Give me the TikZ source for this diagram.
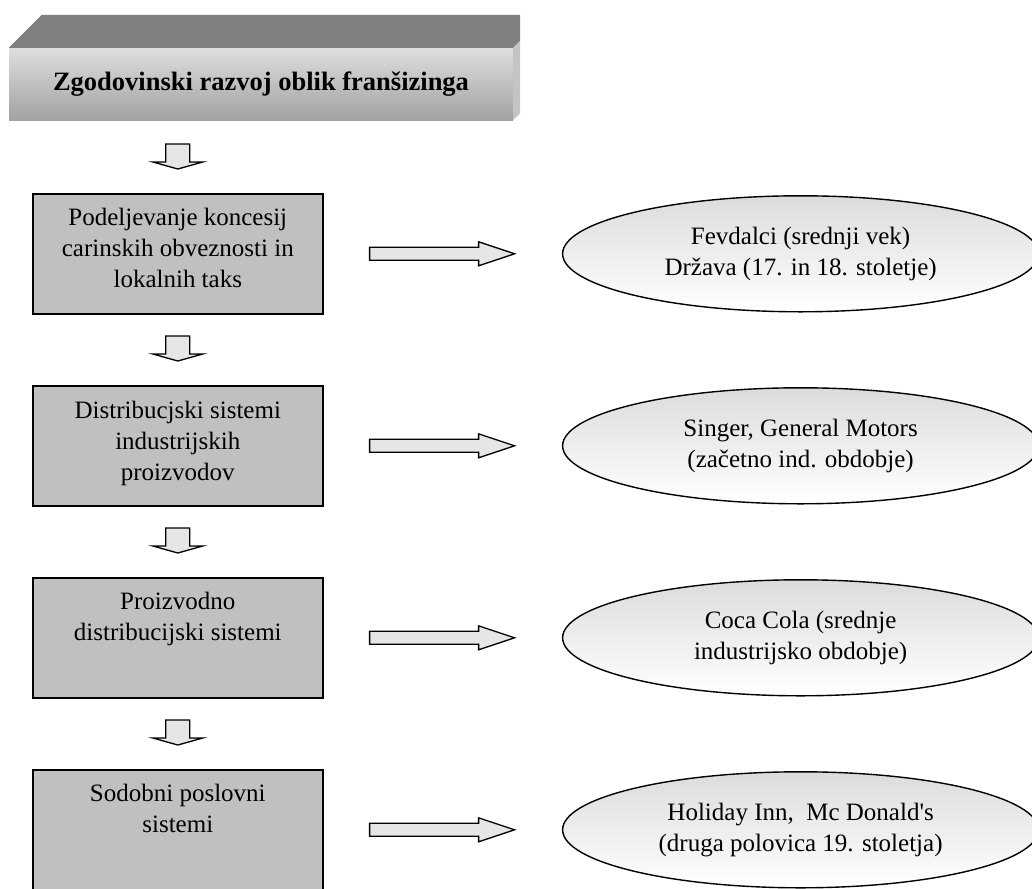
\documentclass[tikz,border=0pt]{standalone}
\usepackage{fontspec}
\setmainfont{Liberation Serif}
\newfontfamily\plainserif{Liberation Serif}
\usetikzlibrary{shapes.geometric,calc}
\definecolor{boxgray}{HTML}{C0C0C0}
\definecolor{arrgray}{HTML}{E6E6E6}
\definecolor{ovtop}{HTML}{DCDCDC}
\definecolor{topgray}{HTML}{808080}
\definecolor{sidegray}{HTML}{C4C4C4}
\definecolor{fronttop}{HTML}{DEDEDE}
\definecolor{frontbot}{HTML}{A2A2A2}
\begin{document}
\begin{tikzpicture}[x=1pt,y=-1pt,
  stepbox/.style={draw=black, line width=1.6pt, fill=boxgray, minimum width=290pt, minimum height=120pt, inner sep=0pt, anchor=north west},
  boxtext/.style={anchor=north, align=center, font=\fontsize{25}{31}\selectfont, inner sep=0pt},
  oval/.style={ellipse, draw=black, line width=1.4pt, top color=ovtop, bottom color=white, minimum width=476pt, minimum height=116pt, inner sep=0pt, align=center, font=\fontsize{25}{31}\selectfont},
  arrowfill/.style={draw=black, line width=1.3pt, fill=arrgray, line join=miter},
  darr/.pic={\path[arrowfill] (-12,0) -- (-12,18) -- (-25,18) -- (0,25) -- (25,18) -- (12,18) -- (12,0) -- cycle;},
  rarr/.pic={\path[arrowfill] (0,-6.5) -- (109,-6.5) -- (109,-12) -- (145,0) -- (109,12) -- (109,6.5) -- (0,6.5) -- cycle;},
]
\useasboundingbox (0,0) rectangle (1032,888);
\clip (0,0) rectangle (1032,888);

% title block
\node[minimum width=504pt, minimum height=72pt, inner sep=0pt, top color=fronttop, bottom color=frontbot,
      font=\fontsize{26.5}{31}\selectfont\bfseries] (title) at (261,84) {Zgodovinski razvoj oblik franšizinga};
\fill[topgray] (title.north west) -- ++(33,-33) -- ($(title.north east)+(7,-33)$) -- ($(title.north east)+(7,-7)$) -- (title.north east) -- cycle;
\fill[sidegray] (title.north east) -- ($(title.north east)+(7,-7)$) -- ($(title.south east)+(7,-7)$) -- (title.south east) -- cycle;

% boxes
\node[stepbox] (b1) at (32,193) {};
\node[stepbox] (b2) at (32,385) {};
\node[stepbox] (b3) at (32,577) {};
\node[stepbox] (b4) at (32,769) {};
\node[boxtext] (t1) at ($(b1.north)+(0,15)$) {Podeljevanje koncesij\\carinskih obveznosti in\\lokalnih taks};
\node[boxtext] (t2) at ($(b2.north)+(0,16)$) {Distribucjski sistemi\\industrijskih\\proizvodov};
\node[boxtext] (t3) at ($(b3.north)+(0,15)$) {Proizvodno\\distribucijski sistemi};
\node[boxtext] (t4) at ($(b4.north)+(0,15)$) {Sodobni poslovni\\sistemi};

% ellipses
\node[oval] (e1) at ($(b1.east)+(477,0)$) {Fevdalci (srednji vek)\\Država (17. in 18. stoletje)};
\node[oval] (e2) at ($(b2.east)+(477,0)$) {Singer, General Motors\\(začetno ind. obdobje)};
\node[oval] (e3) at ($(b3.east)+(477,0)$) {Coca Cola (srednje\\industrijsko obdobje)};
\node[oval] (e4) at ($(b4.east)+(477,0)$) {Holiday Inn,\ \ Mc Donald{\plainserif '}s\\(druga polovica 19. stoletja)};

% down arrows
\pic at ($(b1.north)+(0,-49)$) {darr};
\pic at ($(b2.north)+(0,-49)$) {darr};
\pic at ($(b3.north)+(0,-49)$) {darr};
\pic at ($(b4.north)+(0,-49)$) {darr};

% right arrows
\pic at ($(b1.east)+(46,0)$) {rarr};
\pic at ($(b2.east)+(46,0)$) {rarr};
\pic at ($(b3.east)+(46,0)$) {rarr};
\pic at ($(b4.east)+(46,0)$) {rarr};
\end{tikzpicture}
\end{document}
